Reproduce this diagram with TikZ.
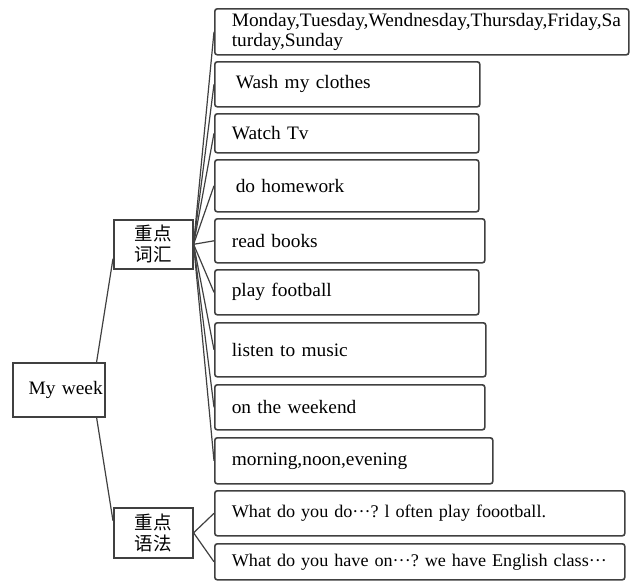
\documentclass[tikz,border=0pt]{standalone}
\usepackage{fontspec}
\setmainfont{Liberation Serif}[FakeStretch=1.02]
\newfontfamily\cjk{Noto Sans CJK SC}
\usepackage{xcolor}
\definecolor{boxline}{rgb}{0.25,0.25,0.25}
\usetikzlibrary{positioning}
\tikzset{>=stealth}
\newcommand{\leaffont}{\fontsize{19}{20}\selectfont\spaceskip=3.2pt plus 1pt minus 0.5pt\relax}
\newcommand{\askfont}{\fontsize{17.8}{20}\selectfont\spaceskip=3.2pt plus 1pt minus 0.5pt\relax}
\newcommand{\dotsmid}{\textperiodcentered\textperiodcentered\textperiodcentered}
\tikzset{
  leaf/.style={draw=boxline, line width=1.6pt, rounded corners=2.5pt, anchor=north west,
    inner xsep=17pt, inner ysep=0pt, align=left, font=\leaffont},
  hub/.style={draw=boxline, line width=1.6pt, anchor=north west, inner sep=0pt,
    align=center, font=\cjk\fontsize{18.5}{21}\selectfont},
  link/.style={draw=boxline, line width=1.2pt}
}
\frenchspacing

\begin{document}
\begin{tikzpicture}[x=1pt,y=-1pt]
\useasboundingbox (0,0) rectangle (630,582);

\node[hub, minimum width=92pt, minimum height=54pt, text width=88pt, align=right,
  font=\leaffont] (week) at (12,362) {My week};
\node[hub, minimum width=79pt, minimum height=49pt] (vocab) at (113,219) {重点\\词汇};
\node[hub, minimum width=79pt, minimum height=50pt] (gram) at (113,507) {重点\\语法};

\node[leaf, minimum height=46pt, text width=380pt] (mon) at (214,8)
  {\makebox[380pt][l]{Monday,Tuesday,Wendnesday,Thursday,Friday,Sa}\\turday,Sunday};
\node[leaf, minimum height=45pt, text width=231pt] (wash) at (214,61) {\hspace*{4pt}Wash my clothes};
\node[leaf, minimum height=39pt, text width=230pt] (watch) at (214,113) {Watch Tv};
\node[leaf, minimum height=52pt, text width=230pt] (hw) at (214,159) {\hspace*{4pt}do homework};
\node[leaf, minimum height=44pt, text width=236pt] (books) at (214,218) {read books};
\node[leaf, minimum height=45pt, text width=230pt] (ball) at (214,269) {play football};
\node[leaf, minimum height=54pt, text width=237pt] (music) at (214,322) {listen to music};
\node[leaf, minimum height=45pt, text width=236pt] (wkend) at (214,384) {on the weekend};
\node[leaf, minimum height=46pt, text width=244pt] (day) at (214,437) {morning,noon,evening};
\node[leaf, font=\askfont, minimum height=45pt, text width=376pt] (q1) at (214,490)
  {\makebox[376pt][l]{What do you do\dotsmid? l often play foootball.}};
\node[leaf, font=\askfont, minimum height=36pt, text width=376pt] (q2) at (214,543)
  {\makebox[376pt][l]{What do you have on\dotsmid? we have English class\dotsmid}};

% branches
\draw[link] ([xshift=-9pt]week.north east) -- ([yshift=11pt]vocab.south west);
\draw[link] ([xshift=-9pt]week.south east) -- ([yshift=12pt]gram.west);
\foreach \b in {mon,wash,watch,hw,books,ball,music,wkend,day}
  \draw[link] (vocab.east) -- (\b.west);
\foreach \b in {q1,q2}
  \draw[link] (gram.east) -- (\b.west);
\end{tikzpicture}
\end{document}
